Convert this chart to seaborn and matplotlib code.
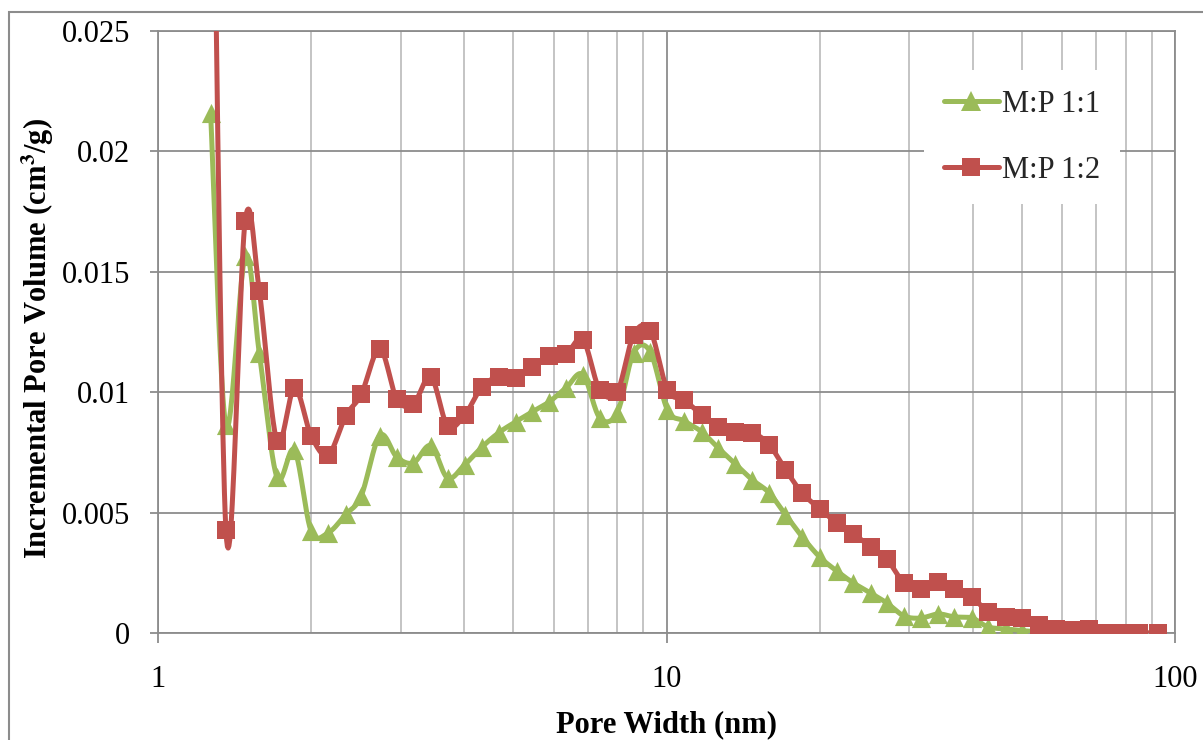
import numpy as np
import pandas as pd
import matplotlib
matplotlib.use("Agg")
import matplotlib.pyplot as plt
import matplotlib.patches as mpatches
from matplotlib.lines import Line2D
from matplotlib.ticker import FixedLocator, NullFormatter, LogLocator
import seaborn as sns

# ---------------- data ----------------
pore_width = [1.269, 1.36, 1.484, 1.582, 1.713, 1.855, 2.0, 2.16, 2.34, 2.51,
              2.73, 2.95, 3.18, 3.44, 3.71, 4.01, 4.34, 4.68, 5.05, 5.45,
              5.88, 6.35, 6.85, 7.39, 8.0, 8.62, 9.29, 10.04, 10.82, 11.72,
              12.63, 13.64, 14.75, 15.92, 17.14, 18.48, 20.0, 21.6, 23.3, 25.2,
              27.1, 29.3, 31.6, 34.2, 36.8, 39.9, 42.9, 46.5, 50.0, 54.0,
              58.3, 63.0, 67.7, 73.5, 79.0, 85.0, 92.6]

mp_1_1 = [0.0216, 0.00862, 0.01567, 0.01163, 0.00648, 0.00759, 0.00424, 0.00416, 0.00493, 0.0057,
          0.0082, 0.0073, 0.00707, 0.00778, 0.00644, 0.00699, 0.00773, 0.00832, 0.00877, 0.00919,
          0.0096, 0.01019, 0.01073, 0.00894, 0.00915, 0.01164, 0.01168, 0.00927, 0.00881, 0.00836,
          0.00769, 0.00703, 0.00636, 0.00582, 0.00491, 0.0040, 0.00316, 0.00258, 0.00208, 0.00166,
          0.00125, 0.00071, 0.00062, 0.00079, 0.00067, 0.00062, 0.00025, 0.00017, 0.0001, 0.00005,
          0.00003, 0.00002, 0.00002, 0.00001, 0.0, 0.0, 0.0]

mp_1_2 = [0.043, 0.00428, 0.01713, 0.01421, 0.00799, 0.01017, 0.0082, 0.00739, 0.00902, 0.00991,
          0.0118, 0.0097, 0.00952, 0.01064, 0.0086, 0.00906, 0.01023, 0.01064, 0.0106, 0.01106,
          0.01152, 0.0116, 0.01218, 0.0101, 0.01002, 0.01239, 0.01256, 0.0101, 0.00969, 0.00906,
          0.00857, 0.00836, 0.00832, 0.00782, 0.00678, 0.00582, 0.00516, 0.00457, 0.00412, 0.00358,
          0.00308, 0.00208, 0.00183, 0.00212, 0.00183, 0.0015, 0.00087, 0.00067, 0.00062, 0.00033,
          0.00017, 0.00012, 0.00017, 0.0, 0.0, 0.0, 0.0]

series_names = ["M:P 1:1", "M:P 1:2"]
x_ticks = [1, 10, 100]
x_tick_labels = ["1", "10", "100"]
y_ticks = [0, 0.005, 0.01, 0.015, 0.02, 0.025]
y_tick_labels = ["0", "0.005", "0.01", "0.015", "0.02", "0.025"]

GREEN = "#9BBB59"
RED = "#C0504D"

# ---------------- style ----------------
sns.set_theme(style="white")
plt.rcParams["font.family"] = ["Liberation Serif", "DejaVu Serif"]
plt.rcParams["mathtext.fontset"] = "stix"

W, H = 1203, 740
fig = plt.figure(figsize=(W / 100, H / 100), dpi=100)
ax = fig.add_axes([158 / W, 1 - 633 / H, (1175 - 158) / W, (633 - 31) / H])


def smooth_curve(xs, ys, n=24):
    """Excel-like smoothed line (Catmull-Rom Bezier in screen-like space)."""
    u = np.log10(np.asarray(xs, float)) * 508.5
    v = np.asarray(ys, float) / 0.005 * 120.25
    P = np.column_stack([u, v])
    out = []
    for i in range(len(P) - 1):
        p0 = P[i - 1] if i > 0 else P[i]
        p1, p2 = P[i], P[i + 1]
        p3 = P[i + 2] if i + 2 < len(P) else P[i + 1]
        c1 = p1 + (p2 - p0) / 6.0
        c2 = p2 - (p3 - p1) / 6.0
        t = np.linspace(0, 1, n, endpoint=False)[:, None]
        b = (1 - t) ** 3 * p1 + 3 * (1 - t) ** 2 * t * c1 + 3 * (1 - t) * t ** 2 * c2 + t ** 3 * p2
        out.append(b)
    out.append(P[-1:])
    B = np.vstack(out)
    return 10 ** (B[:, 0] / 508.5), B[:, 1] / 120.25 * 0.005


for vals, color, marker, msize, z in [(mp_1_1, GREEN, "^", 190, 3),
                                       (mp_1_2, RED, "s", 170, 5)]:
    sx, sy = smooth_curve(pore_width, vals)
    curve = pd.DataFrame({"x": sx, "y": sy})
    sns.lineplot(data=curve, x="x", y="y", ax=ax, color=color, linewidth=3.6,
                 sort=False, estimator=None, zorder=z, legend=False)
    pts = pd.DataFrame({"x": pore_width, "y": vals})
    sns.scatterplot(data=pts, x="x", y="y", ax=ax, color=color, marker=marker,
                    s=msize, linewidth=0, zorder=z + 0.5, legend=False)

ax.set_xscale("log")
ax.set_xlim(1, 100)
ax.set_ylim(0, 0.025)

ax.xaxis.set_major_locator(FixedLocator(x_ticks))
ax.set_xticklabels(x_tick_labels)
ax.xaxis.set_minor_locator(LogLocator(base=10, subs=np.arange(2, 10)))
ax.xaxis.set_minor_formatter(NullFormatter())
ax.set_yticks(y_ticks)
ax.set_yticklabels(y_tick_labels)

ax.grid(True, which="major", axis="both", color="#8C8C8C", linewidth=1.3)
ax.grid(True, which="minor", axis="x", color="#BFBFBF", linewidth=1.3)
ax.set_axisbelow(True)

for s in ax.spines.values():
    s.set_color("#8C8C8C")
    s.set_linewidth(1.3)

ax.tick_params(axis="x", which="major", direction="out", length=7, width=1.3,
               color="#8C8C8C", pad=16, labelsize=22, labelcolor="black", bottom=True)
ax.tick_params(axis="x", which="minor", length=0)
ax.tick_params(axis="y", which="major", direction="out", length=6, width=1.3,
               color="#8C8C8C", pad=14, labelsize=22, labelcolor="black", left=True)

ax.set_xlabel("Pore Width (nm)", fontsize=22, fontweight="bold", color="black")
ax.set_ylabel("Incremental Pore Volume (cm$^{\\mathbf{3}}$/g)", fontsize=22,
              fontweight="bold", color="black")
ax.xaxis.set_label_coords(0.5, -(710 - 633) / (633 - 31))
ax.yaxis.set_label_coords(-(158 - 56) / (1175 - 158), 0.49)

handles = [Line2D([], [], color=GREEN, lw=3.6, marker="^", markersize=14, markeredgewidth=0),
           Line2D([], [], color=RED, lw=3.6, marker="s", markersize=13, markeredgewidth=0)]
leg = fig.legend(handles, series_names, loc="upper left",
                 bbox_to_anchor=(924 / W, 1 - 70 / H), bbox_transform=fig.transFigure,
                 frameon=True, fancybox=False, facecolor="white", edgecolor="none",
                 framealpha=1, fontsize=22, handlelength=1.8, handletextpad=0.1,
                 labelspacing=1.2, borderpad=0.65, borderaxespad=0)

# chart-area border (only its left and top edges are inside the picture)
fig.patches.append(mpatches.Rectangle((9 / W, -0.2), 1.5, 1 - 12 / H + 0.2,
                                      transform=fig.transFigure, fill=False,
                                      edgecolor="#8C8C8C", linewidth=1.5, clip_on=False))

fig.savefig("out.png", dpi=100, facecolor="white")
